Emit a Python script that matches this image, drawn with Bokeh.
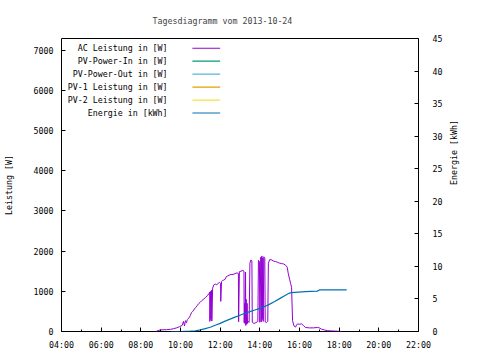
import math
from bokeh.plotting import figure
from bokeh.models import Range1d, LinearAxis, FixedTicker, ColumnDataSource
from bokeh.core.properties import value
from bokeh.embed import file_html
from bokeh.resources import INLINE

FONT = "DejaVu Sans Mono"
FS = "8.3px"

title_text = "Tagesdiagramm vom 2013-10-24"
x_ticks = [4, 6, 8, 10, 12, 14, 16, 18, 20, 22]
x_tick_labels = ["04:00", "06:00", "08:00", "10:00", "12:00", "14:00", "16:00", "18:00", "20:00", "22:00"]
x_minor = [5, 7, 9, 11, 13, 15, 17, 19, 21]
y_ticks = [0, 1000, 2000, 3000, 4000, 5000, 6000, 7000]
y2_ticks = [0, 5, 10, 15, 20, 25, 30, 35, 40, 45]

legend_labels = ["AC Leistung in [W]", "PV-Power-In in [W]", "PV-Power-Out in [W]",
                 "PV-1 Leistung in [W]", "PV-2 Leistung in [W]", "Energie in [kWh]"]
legend_colors = ["#9400d3", "#009e73", "#56b4e9", "#e69f00", "#f0e442", "#0072b2"]

# AC Leistung [W], time in hours
ac_time = [8.77, 8.85, 9.0, 9.3, 9.5, 9.65, 9.8, 9.95, 10.08, 10.15, 10.2, 10.25, 10.3, 10.35,
           10.43, 10.5, 10.55, 10.62, 10.7, 10.77, 10.85, 10.93, 11.0, 11.08, 11.18, 11.27,
           11.35, 11.43, 11.47, 11.48, 11.52, 11.53, 11.57, 11.58, 11.62, 11.68, 11.75, 11.83,
           11.9, 11.97, 12.02, 12.03, 12.07, 12.12, 12.18, 12.25, 12.3, 12.37, 12.45, 12.55,
           12.65, 12.75, 12.85, 12.92, 12.93, 12.97, 13.05, 13.15, 13.2, 13.21, 13.24, 13.25,
           13.28, 13.29, 13.31, 13.33, 13.36, 13.38, 13.42, 13.46, 13.5, 13.55, 13.6, 13.62,
           13.7, 13.8, 13.9, 13.93, 13.98, 14.0, 14.05, 14.07, 14.1, 14.12, 14.15, 14.17, 14.2,
           14.25, 14.27, 14.33, 14.4, 14.43, 14.5, 14.6, 14.7, 14.8, 14.9, 15.0, 15.1, 15.2,
           15.3, 15.38, 15.43, 15.5, 15.55, 15.6, 15.65, 15.72, 15.8, 15.85, 15.9, 16.0, 16.1,
           16.2, 16.3, 16.5, 16.7, 16.9, 17.0, 17.1, 17.25, 17.4, 17.6, 17.8, 18.0, 18.1]
ac_watt = [0, 20, 40, 45, 55, 70, 90, 120, 150, 250, 140, 270, 220, 300,
           340, 400, 470, 500, 560, 600, 650, 700, 730, 770, 810, 850,
           890, 940, 980, 250, 1000, 300, 1030, 260, 1080, 1160, 1180, 1160,
           1200, 1220, 1200, 750, 1240, 1270, 1280, 1300, 1360, 1380, 1400, 1420,
           1420, 1440, 1460, 1440, 240, 1490, 1500, 1520, 1500, 220, 700, 200,
           1480, 150, 800, 180, 700, 200, 250, 230, 1700, 1780, 1760, 230,
           200, 220, 250, 1770, 1740, 230, 1850, 240, 1880, 300, 1830, 250, 1860,
           1820, 240, 220, 250, 1700, 1790, 1780, 1750, 1740, 1720, 1700, 1690, 1680,
           1650, 1600, 1450, 1300, 1200, 1100, 270, 140, 110, 160, 190, 180, 190,
           150, 100, 90, 90, 100, 90, 60, 40, 20, 15, 10, 5, 0]

# Energie [kWh]
en_time = [9.5, 10.0, 10.5, 10.75, 11.0, 11.25, 11.5, 11.75, 12.0, 12.25, 12.5, 12.75, 13.0,
           13.25, 13.5, 13.75, 14.0, 14.25, 14.5, 14.75, 15.0, 15.25, 15.5, 15.6, 16.3, 16.9,
           17.0, 18.38]
en_kwh = [0, 0.0, 0.05, 0.1, 0.25, 0.45, 0.65, 0.95, 1.25, 1.6, 1.9, 2.2, 2.5,
          2.8, 3.05, 3.3, 3.55, 3.85, 4.2, 4.6, 5.05, 5.5, 5.9, 5.97, 6.12, 6.2,
          6.38, 6.4]

p = figure(width=472, height=352, output_backend="svg", toolbar_location=None,
           x_range=Range1d(4, 22), y_range=Range1d(0, 7290),
           min_border_left=58, min_border_right=54, min_border_top=38, min_border_bottom=21)
p.extra_y_ranges = {"energy": Range1d(0, 45)}
p.grid.visible = False
p.outline_line_color = "black"
p.outline_line_width = 1
p.background_fill_color = "white"
p.border_fill_color = "white"

p.title.text = title_text
p.title.text_font = FONT
p.title.text_font_size = FS
p.title.text_font_style = "normal"
p.title.align = "left"
p.title.offset = 91
p.title.standoff = 26

def style_axis(ax):
    ax.axis_line_color = None
    ax.major_tick_in = 4
    ax.major_tick_out = 0
    ax.minor_tick_in = 2
    ax.minor_tick_out = 0
    ax.major_tick_line_color = "black"
    ax.minor_tick_line_color = "black"
    ax.major_label_text_font = FONT
    ax.major_label_text_font_size = FS
    ax.major_label_text_color = "black"
    ax.axis_label_text_font = FONT
    ax.axis_label_text_font_size = FS
    ax.axis_label_text_font_style = "normal"
    ax.axis_label_text_color = "black"

xa = p.xaxis[0]
xa.ticker = FixedTicker(ticks=x_ticks, minor_ticks=x_minor)
xa.major_label_overrides = {t: l for t, l in zip(x_ticks, x_tick_labels)}
style_axis(xa)
xa.major_label_standoff = 8

ya = p.yaxis[0]
ya.ticker = FixedTicker(ticks=y_ticks, minor_ticks=[])
style_axis(ya)
ya.axis_label = "Leistung [W]"
ya.major_label_standoff = 8
ya.axis_label_standoff = 17

y2 = LinearAxis(y_range_name="energy", ticker=FixedTicker(ticks=y2_ticks, minor_ticks=[]))
style_axis(y2)
y2.axis_label = "Energie [kWh]"
y2.axis_label_orientation = math.pi / 2
y2.major_label_standoff = 14
y2.axis_label_standoff = 9
p.add_layout(y2, "right")

# data lines
p.line(ac_time, ac_watt, line_color=legend_colors[0], line_width=1)
p.line(en_time, en_kwh, line_color=legend_colors[5], line_width=1.2, y_range_name="energy")

# legend (drawn manually, gnuplot style: text then sample)
leg_rows = list(range(len(legend_labels)))
leg_y = [7047 - i * 322 for i in leg_rows]
src = ColumnDataSource(dict(x=[9.35] * len(leg_rows), y=leg_y, t=legend_labels,
                            x0=[10.6] * len(leg_rows), x1=[12.0] * len(leg_rows), c=legend_colors))
p.text(x="x", y="y", text="t", source=src, text_align="right", text_baseline="middle",
       text_font=value(FONT), text_font_size=value(FS), text_color="black")
p.segment(x0="x0", y0="y", x1="x1", y1="y", line_color="c", line_width=1.2, source=src)

open("out.html", "w").write(file_html(p, INLINE))
